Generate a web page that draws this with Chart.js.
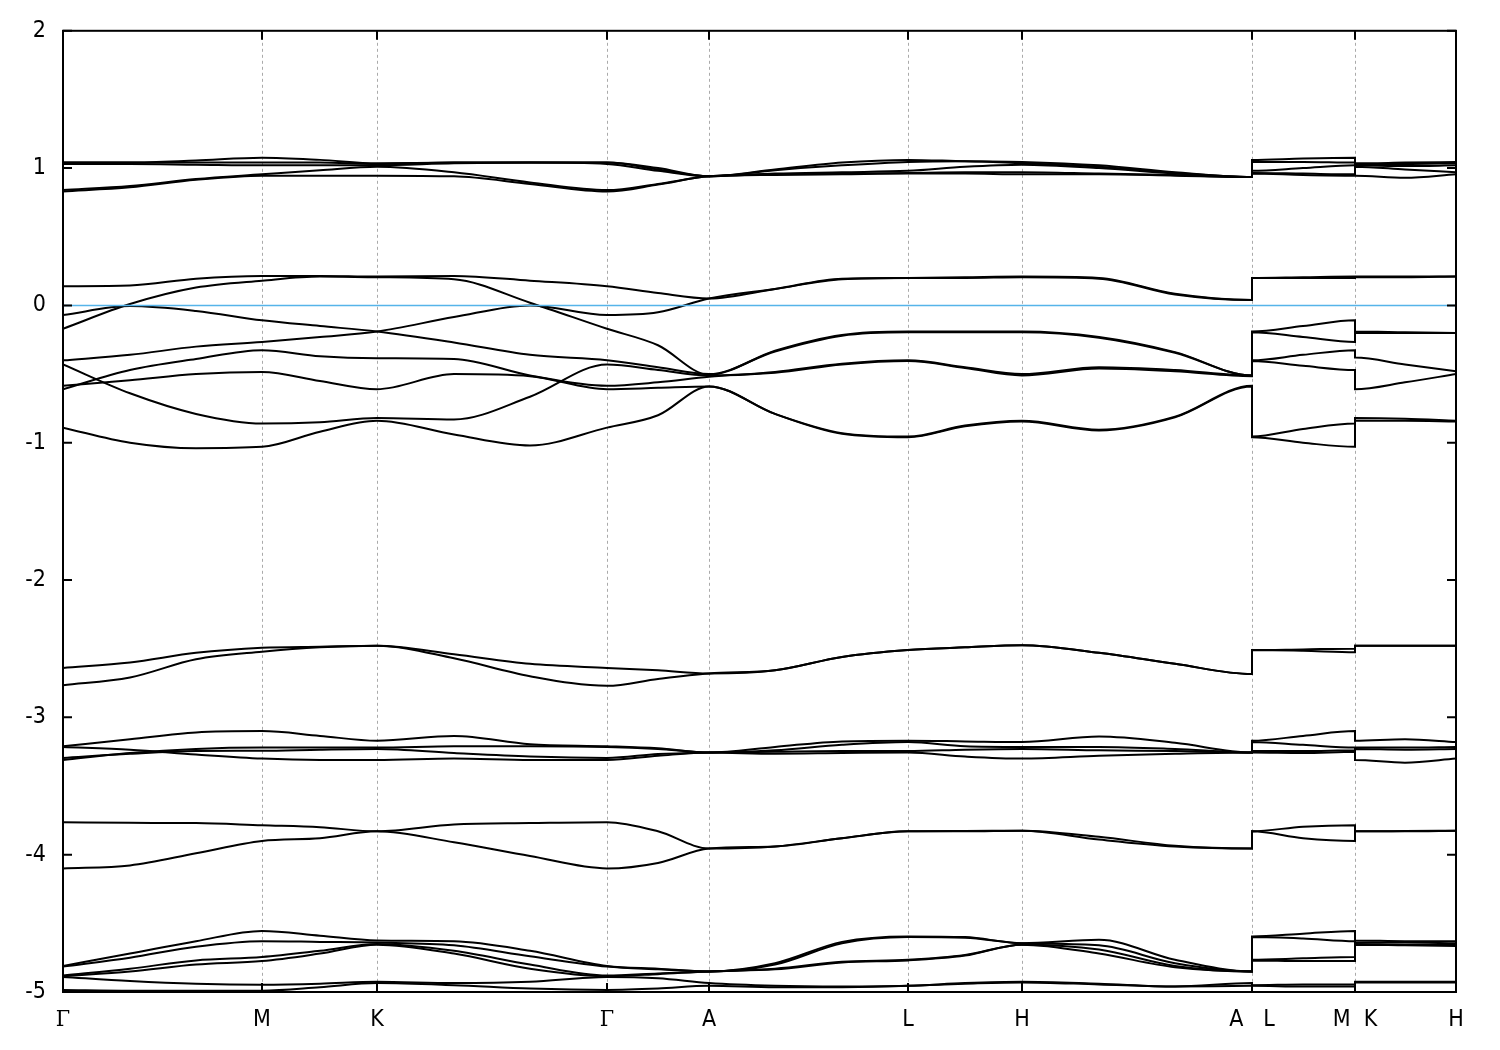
<!DOCTYPE html>
<html>
<head>
<meta charset="utf-8">
<script src="https://cdn.jsdelivr.net/npm/chart.js@4/dist/chart.umd.min.js"></script>
<style>
  html, body { margin: 0; padding: 0; background: #fff; }
  #wrap { width: 1500px; height: 1050px; }
</style>
</head>
<body>
<div id="wrap"><canvas id="bands" width="1500" height="1050"></canvas></div>
<script>
// k-path positions (same for every band); duplicated x = path break (A|L, M|K)
var kpath = [0, 67, 133, 199, 257, 314, 391, 467, 544, 595, 646, 712, 779, 845, 902, 959, 1036, 1112, 1189, 1189, 1240, 1292, 1292, 1342, 1393];

// high-symmetry ticks
var kTicks = [0, 199, 314, 544, 646, 845, 959, 1189, 1292, 1393];
var kLabels = ['Γ', 'M', 'K', 'Γ', 'A', 'L', 'H', 'A   L', 'M  K', 'H'];

// bands around +1 eV
var bandsTop = [
  [1.04, 1.04, 1.055, 1.075, 1.06, 1.035, 1.04, 1.04, 1.04, 1.0, 0.94, 0.99, 1.04, 1.06, 1.05, 1.045, 1.02, 0.97, 0.935, 1.06, 1.07, 1.075, 1.035, 1.04, 1.045],
  [1.04, 1.04, 1.04, 1.04, 1.04, 1.03, 1.04, 1.04, 1.04, 0.99, 0.94, 0.985, 1.02, 1.045, 1.05, 1.035, 1.01, 0.965, 0.935, 1.045, 1.045, 1.04, 1.03, 1.03, 1.035],
  [1.03, 1.03, 1.025, 1.02, 1.02, 1.02, 1.035, 1.04, 1.03, 0.98, 0.94, 0.96, 0.97, 0.98, 1.01, 1.025, 1.0, 0.96, 0.935, 0.98, 1.0, 1.02, 1.02, 1.015, 1.02],
  [0.84, 0.87, 0.92, 0.955, 0.985, 1.01, 0.97, 0.896, 0.84, 0.885, 0.94, 0.955, 0.96, 0.965, 0.97, 0.97, 0.96, 0.95, 0.935, 0.965, 0.96, 0.955, 1.01, 0.99, 0.97],
  [0.83, 0.86, 0.915, 0.945, 0.945, 0.945, 0.94, 0.885, 0.83, 0.88, 0.94, 0.95, 0.955, 0.96, 0.96, 0.955, 0.955, 0.945, 0.935, 0.96, 0.95, 0.945, 0.945, 0.93, 0.955]
];

// bands around the Fermi level
var bandsFermi = [
  [0.14, 0.145, 0.195, 0.215, 0.215, 0.21, 0.215, 0.18, 0.14, 0.09, 0.05, 0.12, 0.195, 0.2, 0.205, 0.21, 0.2, 0.085, 0.04, 0.2, 0.205, 0.21, 0.21, 0.21, 0.21],
  [-0.17, 0.01, 0.13, 0.18, 0.21, 0.205, 0.19, 0.02, -0.17, -0.29, -0.505, -0.33, -0.215, -0.19, -0.19, -0.19, -0.23, -0.34, -0.51, -0.19, -0.15, -0.108, -0.19, -0.195, -0.2],
  [-0.07, -0.005, -0.04, -0.108, -0.15, -0.19, -0.27, -0.36, -0.40, -0.45, -0.5, -0.335, -0.22, -0.195, -0.195, -0.195, -0.235, -0.345, -0.51, -0.195, -0.23, -0.266, -0.2, -0.2, -0.2],
  [-0.40, -0.36, -0.30, -0.266, -0.23, -0.19, -0.085, 0.0, -0.07, -0.05, 0.05, 0.12, 0.19, 0.2, 0.2, 0.205, 0.195, 0.08, 0.04, 0.2, 0.2, 0.2, 0.205, 0.205, 0.21],
  [-0.61, -0.47, -0.39, -0.326, -0.37, -0.385, -0.39, -0.51, -0.585, -0.56, -0.52, -0.485, -0.425, -0.40, -0.45, -0.5, -0.45, -0.47, -0.51, -0.40, -0.36, -0.326, -0.38, -0.43, -0.48],
  [-0.585, -0.545, -0.5, -0.484, -0.55, -0.61, -0.5, -0.515, -0.61, -0.6, -0.59, -0.79, -0.93, -0.955, -0.875, -0.84, -0.905, -0.81, -0.585, -0.955, -0.9, -0.86, -0.82, -0.825, -0.84],
  [-0.43, -0.64, -0.79, -0.86, -0.85, -0.82, -0.83, -0.665, -0.43, -0.47, -0.51, -0.49, -0.43, -0.405, -0.455, -0.51, -0.46, -0.48, -0.515, -0.405, -0.44, -0.47, -0.61, -0.56, -0.5],
  [-0.89, -1.0, -1.04, -1.03, -0.92, -0.84, -0.94, -1.02, -0.89, -0.8, -0.59, -0.79, -0.935, -0.96, -0.88, -0.845, -0.91, -0.815, -0.59, -0.96, -1.0, -1.03, -0.84, -0.84, -0.845]
];

// bands near -2.6 eV
var bandsMid = [
  [-2.64, -2.60, -2.53, -2.493, -2.485, -2.478, -2.54, -2.61, -2.64, -2.657, -2.68, -2.657, -2.56, -2.51, -2.49, -2.474, -2.53, -2.61, -2.685, -2.51, -2.505, -2.5, -2.478, -2.478, -2.478],
  [-2.766, -2.71, -2.577, -2.522, -2.49, -2.478, -2.57, -2.70, -2.77, -2.72, -2.68, -2.657, -2.56, -2.51, -2.49, -2.474, -2.53, -2.61, -2.685, -2.51, -2.515, -2.525, -2.478, -2.478, -2.478]
];

// bands near -3.2 eV
var bandsLow = [
  [-3.21, -3.16, -3.11, -3.10, -3.135, -3.17, -3.135, -3.195, -3.21, -3.225, -3.256, -3.215, -3.175, -3.17, -3.175, -3.18, -3.14, -3.185, -3.256, -3.17, -3.135, -3.10, -3.17, -3.16, -3.18],
  [-3.215, -3.235, -3.27, -3.30, -3.31, -3.31, -3.30, -3.31, -3.31, -3.28, -3.256, -3.265, -3.26, -3.256, -3.285, -3.30, -3.28, -3.265, -3.256, -3.256, -3.26, -3.25, -3.31, -3.33, -3.30],
  [-3.295, -3.265, -3.245, -3.243, -3.235, -3.23, -3.26, -3.285, -3.295, -3.267, -3.256, -3.25, -3.245, -3.245, -3.235, -3.23, -3.24, -3.245, -3.256, -3.245, -3.245, -3.24, -3.23, -3.235, -3.23],
  [-3.31, -3.26, -3.23, -3.22, -3.22, -3.22, -3.21, -3.21, -3.215, -3.23, -3.256, -3.24, -3.2, -3.18, -3.21, -3.215, -3.215, -3.23, -3.256, -3.18, -3.2, -3.22, -3.22, -3.22, -3.215]
];

// bands near -3.9 eV
var bandsDeep = [
  [-3.763, -3.768, -3.77, -3.786, -3.80, -3.83, -3.78, -3.77, -3.763, -3.83, -3.955, -3.94, -3.88, -3.83, -3.828, -3.825, -3.87, -3.935, -3.955, -3.83, -3.796, -3.785, -3.83, -3.828, -3.825],
  [-4.10, -4.078, -3.99, -3.90, -3.88, -3.83, -3.91, -4.01, -4.10, -4.06, -3.955, -3.94, -3.88, -3.83, -3.83, -3.825, -3.89, -3.94, -3.955, -3.83, -3.88, -3.90, -3.83, -3.83, -3.825]
];

// bands near -4.8 eV
var bandsBottom = [
  [-4.81, -4.72, -4.63, -4.555, -4.59, -4.625, -4.63, -4.7, -4.81, -4.83, -4.85, -4.79, -4.635, -4.595, -4.6, -4.645, -4.62, -4.765, -4.85, -4.595, -4.575, -4.555, -4.625, -4.63, -4.63],
  [-4.815, -4.75, -4.67, -4.63, -4.635, -4.64, -4.66, -4.74, -4.815, -4.835, -4.85, -4.80, -4.645, -4.60, -4.605, -4.645, -4.66, -4.79, -4.85, -4.60, -4.61, -4.63, -4.64, -4.64, -4.645],
  [-4.88, -4.83, -4.77, -4.745, -4.70, -4.65, -4.7, -4.8, -4.88, -4.865, -4.85, -4.83, -4.78, -4.765, -4.73, -4.655, -4.69, -4.81, -4.85, -4.765, -4.755, -4.745, -4.65, -4.655, -4.655],
  [-4.885, -4.85, -4.8, -4.775, -4.72, -4.655, -4.72, -4.83, -4.885, -4.87, -4.85, -4.835, -4.785, -4.77, -4.735, -4.655, -4.72, -4.82, -4.85, -4.77, -4.775, -4.775, -4.655, -4.66, -4.665],
  [-4.89, -4.92, -4.94, -4.947, -4.94, -4.925, -4.935, -4.925, -4.89, -4.9, -4.935, -4.955, -4.96, -4.955, -4.935, -4.925, -4.94, -4.96, -4.935, -4.95, -4.945, -4.945, -4.925, -4.925, -4.925],
  [-4.985, -4.99, -4.99, -4.99, -4.965, -4.935, -4.95, -4.975, -4.985, -4.975, -4.955, -4.965, -4.965, -4.955, -4.94, -4.93, -4.945, -4.96, -4.955, -4.955, -4.96, -4.96, -4.93, -4.93, -4.93]
];

var fermiLevel = 0;

// narrow, tall labels like the gnuplot output
var sansFont = "'DejaVu Sans', 'Liberation Sans', sans-serif";
var serifFont = "'DejaVu Serif', 'Liberation Serif', serif";

function bandDataset(values) {
  return {
    data: kpath.map(function (k, i) { return { x: k, y: values[i] }; }),
    borderColor: '#000000',
    borderWidth: 2,
    pointRadius: 0,
    fill: false,
    cubicInterpolationMode: 'monotone'
  };
}

// frame + inward ticks, like gnuplot's border
var framePlugin = {
  id: 'frame',
  afterDatasetsDraw: function (chart) {
    var ctx = chart.ctx;
    var a = chart.chartArea;
    var xs = chart.scales.x;
    var ys = chart.scales.y;
    var len = 9;
    ctx.save();
    ctx.strokeStyle = '#000';
    ctx.lineWidth = 2;
    ctx.beginPath();
    kTicks.forEach(function (k) {
      var px = xs.getPixelForValue(k);
      ctx.moveTo(px, a.bottom); ctx.lineTo(px, a.bottom - len);
      ctx.moveTo(px, a.top); ctx.lineTo(px, a.top + len);
    });
    ys.ticks.forEach(function (t) {
      var py = ys.getPixelForValue(t.value);
      ctx.moveTo(a.left, py); ctx.lineTo(a.left + len, py);
      ctx.moveTo(a.right, py); ctx.lineTo(a.right - len, py);
    });
    ctx.stroke();
    ctx.strokeRect(a.left, a.top, a.right - a.left, a.bottom - a.top);
    ctx.restore();
  }
};

function printBandChart(target) {
  var datasets = [{
    data: [{ x: kpath[0], y: fermiLevel }, { x: kpath[kpath.length - 1], y: fermiLevel }],
    borderColor: '#56b4e9',
    borderWidth: 1.6,
    pointRadius: 0,
    fill: false
  }];
  [bandsTop, bandsFermi, bandsMid, bandsLow, bandsDeep, bandsBottom].forEach(function (group) {
    group.forEach(function (b) { datasets.push(bandDataset(b)); });
  });

  new Chart(document.getElementById(target), {
    type: 'line',
    data: { datasets: datasets },
    options: {
      responsive: false,
      animation: false,
      layout: { padding: { top: 28, right: 44, left: 0, bottom: 0 } },
      plugins: { legend: { display: false }, tooltip: { enabled: false } },
      scales: {
        x: {
          type: 'linear',
          min: 0,
          max: 1393,
          afterBuildTicks: function (s) { s.ticks = kTicks.map(function (v) { return { value: v }; }); },
          afterFit: function (s) { s.height = 58; },
          grid: {
            drawTicks: false,
            lineWidth: 1,
            color: function (c) { return (c.index === 0 || c.index === kTicks.length - 1) ? 'rgba(0,0,0,0)' : '#aaaaaa'; }
          },
          border: { display: false, dash: [3, 3] },
          ticks: {
            autoSkip: false,
            maxRotation: 0,
            padding: 14,
            color: '#000',
            font: function (c) {
              var isGamma = kLabels[c.index] === 'Γ';
              return { family: isGamma ? serifFont : sansFont, size: 23, weight: 'condensed' };
            },
            callback: function (v, i) { return kLabels[i]; }
          }
        },
        y: {
          min: -5,
          max: 2,
          afterFit: function (s) { s.width = 63; },
          grid: { display: false, drawTicks: false },
          border: { display: false },
          ticks: {
            stepSize: 1,
            padding: 17,
            color: '#000',
            font: { family: sansFont, size: 23, weight: 'condensed' },
            callback: function (v) { return String(v); }
          }
        }
      }
    },
    plugins: [framePlugin]
  });
}

printBandChart('bands');
</script>
</body>
</html>
